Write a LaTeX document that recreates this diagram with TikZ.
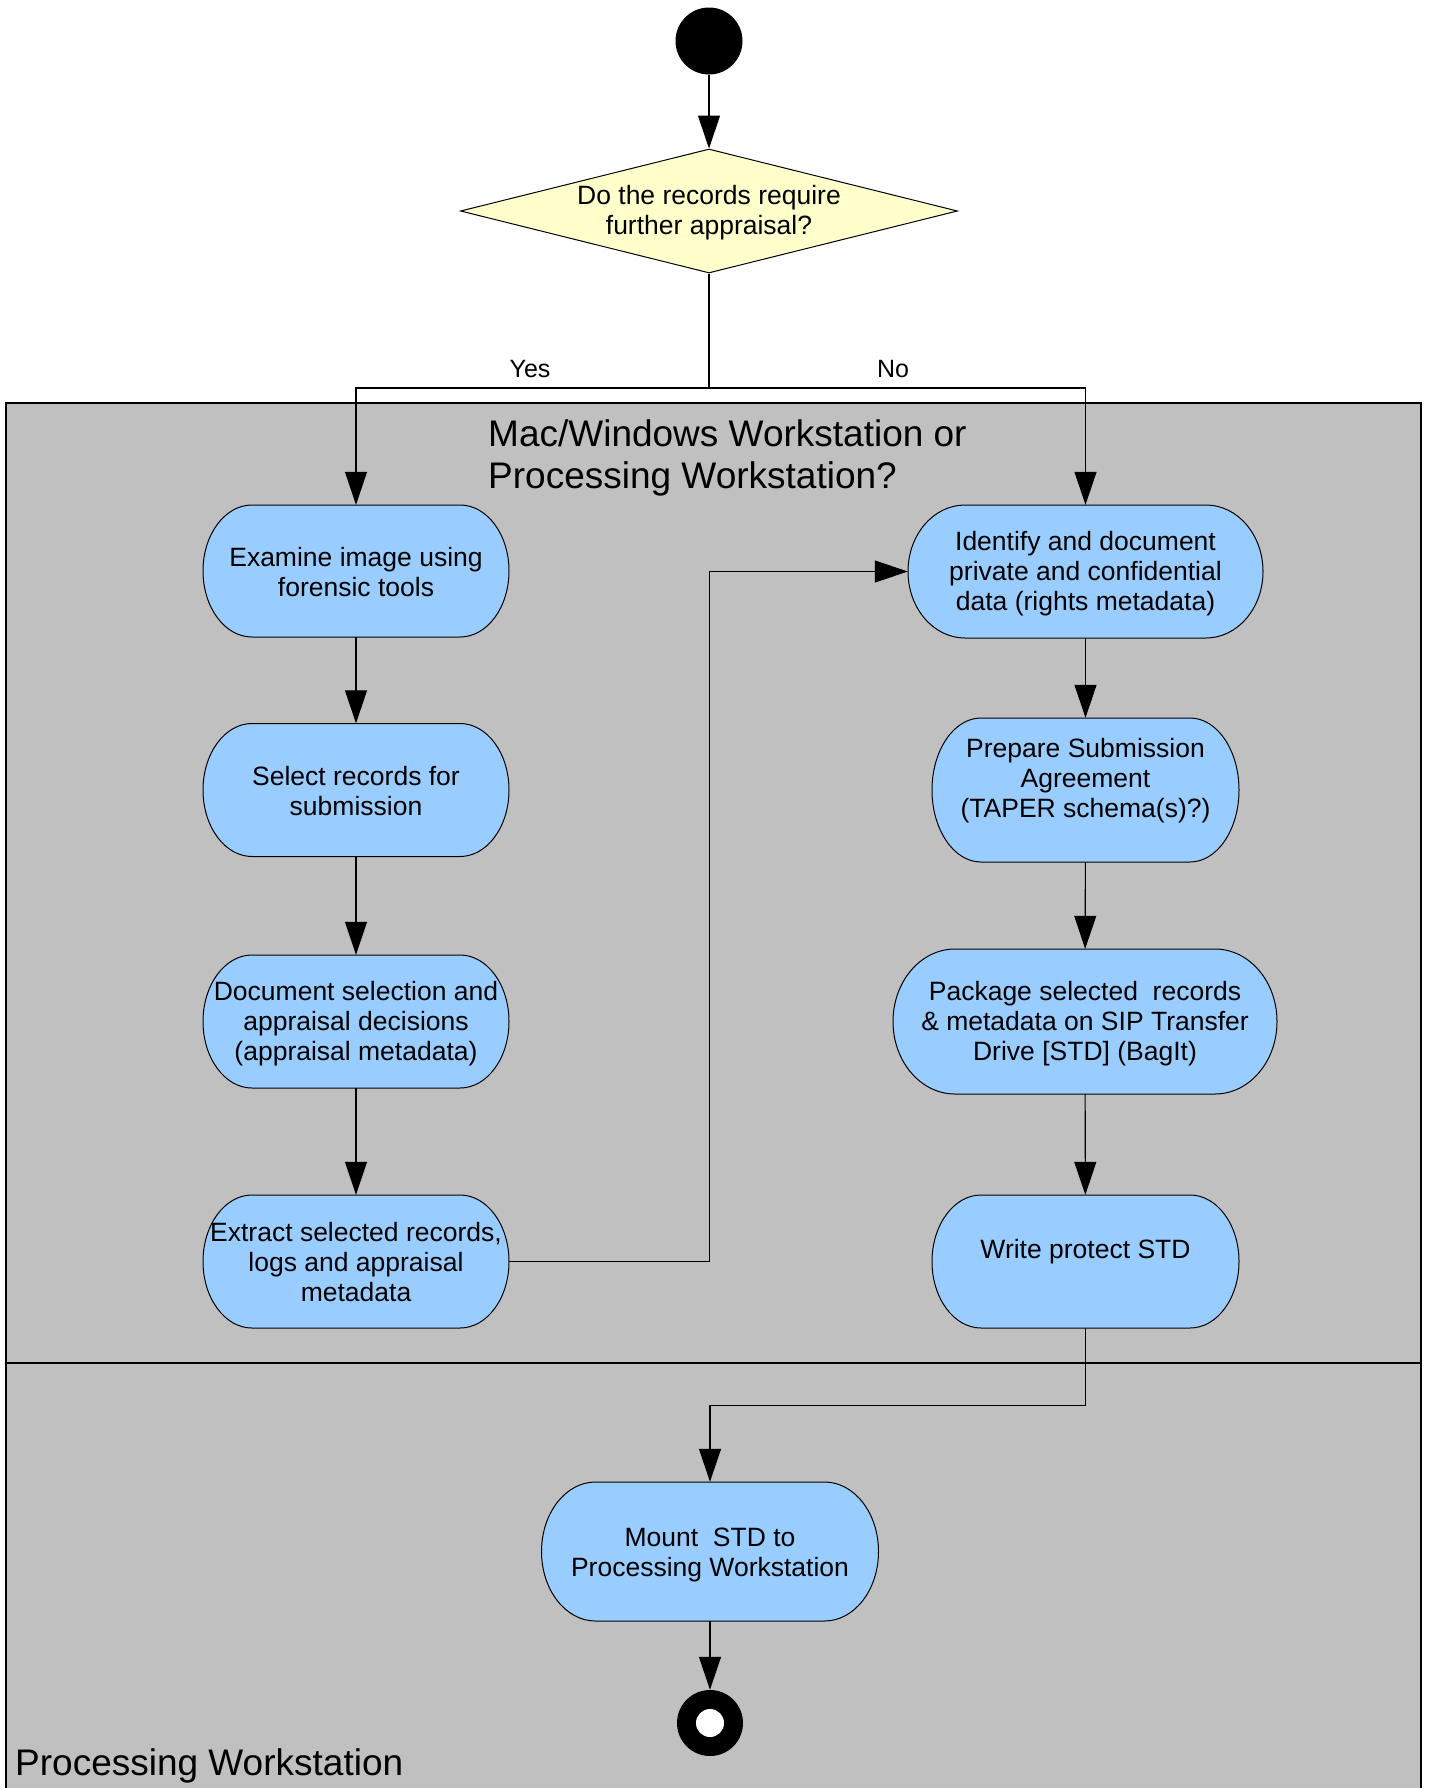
\documentclass[tikz,border=0pt]{standalone}
\usepackage{fontspec}
\setmainfont{Liberation Sans}
\usetikzlibrary{arrows.meta,shapes.geometric}
\definecolor{lanegray}{HTML}{C0C0C0}
\definecolor{actblue}{HTML}{99CCFF}
\definecolor{decyellow}{HTML}{FFFFCC}
\tikzset{
  conn/.style={line width=1.1pt, draw=black},
  arr/.style={conn, -{Triangle[length=33pt,width=22pt]}},
  actshape/.style={fill=actblue, draw=black, line width=1pt},
  acttext/.style={align=center, inner sep=0pt, font=\fontsize{26.5}{30}\selectfont},
  actframe/.style={draw=none, inner sep=0pt},
  lane/.style={fill=lanegray, draw=black, line width=1.3pt},
  lanetitle/.style={inner sep=0pt, font=\fontsize{37}{42}\selectfont, align=left},
  guard/.style={inner sep=0pt, font=\fontsize{25}{28}\selectfont},
  decbox/.style={diamond, aspect=4, fill=decyellow, draw=black, line width=1pt,
    minimum width=497, minimum height=124, inner sep=0pt},
  dectext/.style={align=center, inner sep=0pt, font=\fontsize{26.5}{30}\selectfont},
  startdot/.style={circle, fill=black, minimum size=67, inner sep=0pt},
  enddot/.style={circle, fill=black, minimum size=66, inner sep=0pt},
}
% #1 name, #2 cx, #3 cy, #4 w, #5 h, #6 rx, #7 text shift, #8 text
\newcommand\actbox[8]{%
  \pgfmathsetmacro\actry{#5/2}%
  \filldraw[actshape] ({#2+#4/2-#6},{#3-#5/2})
    arc[start angle=90,end angle=-90,x radius=#6pt,y radius=\actry pt]
    -- ({#2-#4/2+#6},{#3+#5/2})
    arc[start angle=270,end angle=90,x radius=#6pt,y radius=\actry pt] -- cycle;
  \node[actframe, minimum width=#4, minimum height=#5] (#1) at (#2,#3) {};
  \node[acttext] (#1-txt) at (#2,{#3+#7}) {#8};
}
\begin{document}
\begin{tikzpicture}[x=1pt,y=-1pt]
\useasboundingbox (0,0) rectangle (1429,1788);
\fill[white] (0,0) rectangle (1429,1788);
\clip (0,0) rectangle (1429,1788);
% swimlanes
\filldraw[lane] (6,403) rectangle (1421,1800);
\draw[lane, fill=none] (6,1363) -- (1421,1363);
\node[lanetitle, anchor=north west] (lanetop) at (488,419) {Mac/Windows Workstation or\\Processing Workstation?};
\node[lanetitle, anchor=base west] (lanebottom) at (15,1775) {Processing Workstation};
% start and decision
\node[startdot] (start) at (709,41) {};
\node[decbox] (dec) at (709,211) {};
\node[dectext] (dec-txt) at (709,213) {Do the records require\\further appraisal?};
% activities
\actbox{exam}{356}{571}{306}{132}{49}{1}{Examine image using\\forensic tools}
\actbox{sel}{356}{790}{306}{133}{49}{1}{Select records for\\submission}
\actbox{doc}{356}{1021.5}{306}{133}{49}{2.5}{Document selection and\\appraisal decisions\\(appraisal metadata)}
\actbox{extr}{356}{1261.5}{306}{133}{49}{1}{Extract selected records,\\logs and appraisal\\metadata}
\actbox{ident}{1085.5}{571.5}{355}{133}{57}{2}{Identify and document\\private and confidential\\data (rights metadata)}
\actbox{prep}{1085.5}{790}{307}{144}{49}{-9}{Prepare Submission\\Agreement\\(TAPER schema(s)?)}
\actbox{pack}{1085}{1021.5}{384}{145}{62}{2.5}{Package selected\ \ records\\\& metadata on SIP Transfer\\Drive [STD] (BagIt)}
\actbox{wp}{1085.5}{1261.5}{307}{133}{49}{-10}{Write protect STD}
\actbox{mount}{710}{1551.5}{337}{139}{54}{3}{Mount\ \ STD to\\Processing Workstation}
\node[enddot] (finish) at (710,1723) {};
\fill[white] (finish.center) circle[radius=14pt];
% guards
\node[guard] (yes) at (530,369) {Yes};
\node[guard] (no) at (893,369) {No};
% connectors
\coordinate (split) at (709,388);
\draw[arr] (start) -- (dec);
\draw[conn] (dec.south) -- (split);
\draw[arr] (split) -| (exam.north);
\draw[arr] (split) -| (ident.north);
\draw[arr] (exam) -- (sel);
\draw[arr] (sel) -- (doc);
\draw[arr] (doc) -- (extr);
\draw[arr] (extr.east) -- ++(200,0) |- (ident.west);
\draw[arr] (ident) -- (prep);
\draw[arr] (prep) -- (pack);
\draw[arr] (pack) -- (wp);
\draw[arr] (wp.south) -- ++(0,77) -| (mount.north);
\draw[arr] (mount) -- (finish);
\end{tikzpicture}
\end{document}
